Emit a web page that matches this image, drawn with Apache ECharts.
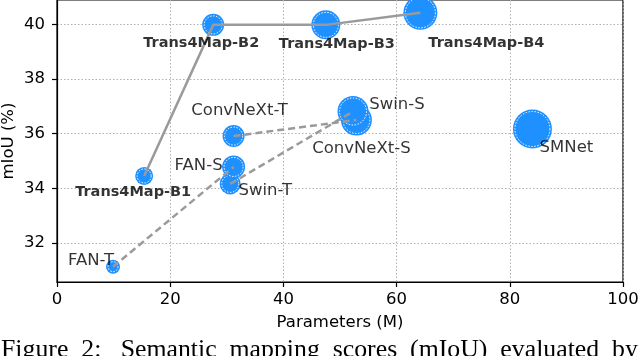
<!DOCTYPE html>
<html>
<head>
<meta charset="utf-8">
<script src="https://cdn.jsdelivr.net/npm/echarts@6/dist/echarts.min.js"></script>
<style>
  html, body { margin: 0; padding: 0; background: #fff; }
  #main { width: 640px; height: 356px; }
</style>
</head>
<body>
<div id="main"></div>
<script>
// models, parameters (M), mIoU (%), bubble diameter
const names = ['Trans4Map-B1', 'Trans4Map-B2', 'Trans4Map-B3', 'Trans4Map-B4',
  'ConvNeXt-T', 'ConvNeXt-S', 'Swin-T', 'Swin-S', 'FAN-T', 'FAN-S', 'SMNet'];
const params = [15.4, 27.6, 47.5, 64.2, 31.2, 52.9, 30.6, 52.3, 9.9, 31.2, 84.0];
const miou = [34.45, 39.98, 39.98, 40.42, 35.91, 36.5, 34.16, 36.81, 31.13, 34.78, 36.17];
const bubble = [18, 22, 29, 34, 22, 31, 21, 31, 14, 23, 39];

const xTicks = [0, 20, 40, 60, 80, 100];
const yTicks = [32, 34, 36, 38, 40];

// which models are joined
const solidGroups = [['Trans4Map-B1', 'Trans4Map-B2', 'Trans4Map-B3', 'Trans4Map-B4']];
const dashedGroups = [['FAN-T', 'FAN-S'], ['Swin-T', 'Swin-S'], ['ConvNeXt-T', 'ConvNeXt-S']];

// label placement relative to the bubble centre (px), bold flag
const labelLayout = {
  'Trans4Map-B1': [-11, 16, true],
  'Trans4Map-B2': [-12, 18, true],
  'Trans4Map-B3': [11, 19, true],
  'Trans4Map-B4': [66, 30, true],
  'ConvNeXt-T': [6, -25],
  'ConvNeXt-S': [5, 29],
  'Swin-T': [35, 7],
  'Swin-S': [44, -7],
  'FAN-T': [-22, -6],
  'FAN-S': [-35, -1],
  'SMNet': [34, 19]
};

const blue = '#1e90ff';
const grey = '#9a9a9a';
const font = 'DejaVu Sans';

function pt(n) {
  const i = names.indexOf(n);
  return [params[i], miou[i]];
}

let series = [];

// bubbles: a blue disc then a dotted white ring just inside it
names.forEach((n, i) => {
  const d = [params[i], miou[i]];
  series.push({
    type: 'scatter', z: 2, silent: true,
    symbolSize: bubble[i],
    itemStyle: { color: blue, opacity: 1 },
    data: [d]
  });
  series.push({
    type: 'scatter', z: 2, silent: true,
    symbolSize: bubble[i] - 4,
    itemStyle: { color: blue, opacity: 1, borderColor: '#fff', borderWidth: 1, borderType: [1.5, 1.5] },
    data: [d]
  });
});

solidGroups.forEach(g => {
  series.push({
    type: 'line', z: 3, silent: true, symbol: 'none',
    lineStyle: { color: grey, width: 2.5 },
    data: g.map(pt)
  });
});
dashedGroups.forEach(g => {
  series.push({
    type: 'line', z: 3, silent: true, symbol: 'none',
    lineStyle: { color: grey, width: 2.5, type: [7, 4] },
    data: g.map(pt)
  });
});

// labels on top of everything
series.push({
  type: 'scatter', z: 5, silent: true,
  symbolSize: 1,
  itemStyle: { color: 'rgba(0,0,0,0)' },
  data: names.map((n, i) => {
    const l = labelLayout[n];
    return {
      value: [params[i], miou[i]],
      label: {
        show: true,
        formatter: n,
        position: 'inside',
        offset: [l[0], l[1]],
        fontFamily: font,
        fontSize: l[2] ? 14.5 : 16.5,
        fontWeight: l[2] ? 'bold' : 'normal',
        color: '#000'
      }
    };
  })
});

const chart = echarts.init(document.getElementById('main'));
chart.setOption({
  animation: false,
  backgroundColor: '#fff',
  grid: {
    left: 57, right: 17, top: 0, bottom: 74,
    show: true, borderColor: '#000', borderWidth: 1.2,
    containLabel: false, outerBoundsMode: 'none'
  },
  xAxis: {
    type: 'value',
    min: xTicks[0], max: xTicks[xTicks.length - 1], interval: 20,
    name: 'Parameters (M)',
    nameLocation: 'middle', nameGap: 32, nameMoveOverlap: false,
    nameTextStyle: { fontFamily: font, fontSize: 16.5, color: '#000' },
    axisLine: { show: true, lineStyle: { color: '#000', width: 1.2 } },
    axisTick: { show: true, inside: false, length: 5, lineStyle: { color: '#000', width: 1.2 } },
    axisLabel: { fontFamily: font, fontSize: 16.5, color: '#000', margin: 9 },
    splitLine: { show: true, lineStyle: { color: '#b0b0b0', width: 1, type: [1.5, 2] } }
  },
  yAxis: {
    type: 'value',
    min: 30.57, max: 40.89,
    name: 'mIoU (%)',
    nameLocation: 'middle', nameGap: 40, nameMoveOverlap: false,
    nameTextStyle: { fontFamily: font, fontSize: 16.5, color: '#000' },
    axisLine: { show: true, lineStyle: { color: '#000', width: 1.2 } },
    axisTick: { show: true, inside: false, length: 5, customValues: yTicks, lineStyle: { color: '#000', width: 1.2 } },
    axisLabel: { fontFamily: font, fontSize: 16.5, color: '#000', margin: 12, customValues: yTicks },
    splitLine: { show: true, lineStyle: { color: '#b0b0b0', width: 1, type: [1.5, 2] } }
  },
  graphic: [{
    type: 'text', left: 1, top: 337, silent: true,
    style: {
      text: 'Figure  2:   Semantic  mapping  scores  (mIoU)  evaluated  by',
      font: '25.8px "Liberation Serif"',
      fill: '#000'
    }
  }],
  series: series
});
</script>
</body>
</html>
